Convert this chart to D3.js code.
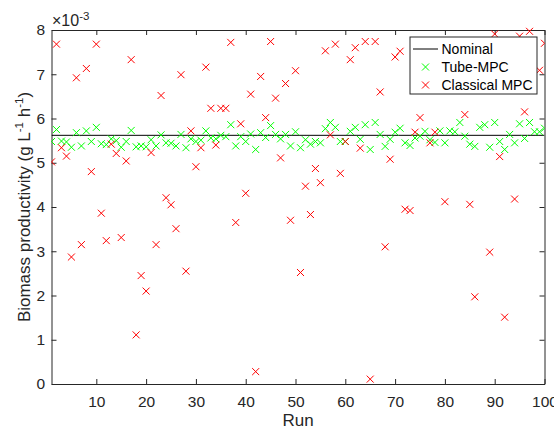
<!DOCTYPE html>
<html>
<head>
<meta charset="utf-8">
<script src="https://cdn.jsdelivr.net/npm/d3@7"></script>
<style>
  body { margin: 0; background: #fff; }
  svg { display: block; font-family: "Liberation Sans", Arial, sans-serif; }
</style>
</head>
<body>
<div id="chart"></div>
<script>
// Données (valeurs en 1e-3 g/L/h), une valeur par run 1..100
const runs = d3.range(1, 101);
const nominal = 5.62;

const tubeMPC = [
  5.48, 5.75, 5.49, 5.47, 5.35, 5.68, 5.38, 5.72, 5.48, 5.80,
  5.43, 5.41, 5.54, 5.50, 5.35, 5.48, 5.73, 5.36, 5.38, 5.36,
  5.52, 5.38, 5.63, 5.45, 5.44, 5.38, 5.64, 5.34, 5.54, 5.48,
  5.51, 5.72, 5.56, 5.54, 5.62, 5.59, 5.86, 5.38, 5.59, 5.48,
  5.65, 5.30, 5.68, 5.57, 5.84, 5.64, 5.54, 5.64, 5.38, 5.70,
  5.34, 5.52, 5.42, 5.48, 5.45, 5.77, 5.91, 5.80, 5.48, 5.48,
  5.71, 5.80, 5.53, 5.86, 5.30, 5.91, 5.64, 5.37, 5.53, 5.69,
  5.78, 5.45, 5.39, 5.56, 5.60, 5.71, 5.52, 5.46, 5.72, 5.45,
  5.72, 5.70, 5.91, 5.60, 5.42, 5.37, 5.80, 5.86, 5.35, 5.91,
  5.48, 5.30, 5.64, 5.45, 5.88, 5.55, 5.91, 5.70, 5.70, 5.78
];

// null = hors du cadre (au-dessus de 8e-3)
const classicalMPC = [
  5.02, 7.68, 5.34, 5.15, 2.87, 6.92, 3.15, 7.13, 4.80, 7.68,
  3.86, 3.24, 5.42, 5.21, 3.31, 5.04, 7.33, 1.11, 2.45, 2.10,
  5.23, 3.15, 6.52, 4.21, 4.05, 3.51, 6.99, 2.55, 5.72, 4.91,
  5.34, 7.16, 6.23, 5.40, 6.23, 6.23, 7.72, 3.65, 5.88, 4.31,
  6.55, 0.28, 6.95, 6.02, 7.74, 6.46, 5.11, 6.79, 3.70, 7.08,
  2.52, 4.47, 3.83, 4.87, 4.55, 7.53, 5.63, 7.68, 4.76, 5.48,
  7.33, 7.60, 5.33, 7.74, 0.11, 7.74, 6.60, 3.10, 5.08, 7.39,
  7.52, 3.95, 3.92, 5.69, 6.02, null, 5.45, 5.69, null, 4.12,
  null, null, null, 6.09, 4.06, 1.97, null, null, 2.98, 7.91,
  5.14, 1.51, null, 4.18, 7.86, 6.15, 7.97, null, 7.09, 7.70
];

const xTicks = [10, 20, 30, 40, 50, 60, 70, 80, 90, 100];
const yTicks = [0, 1, 2, 3, 4, 5, 6, 7, 8];

const W = 554, H = 429;
const plot = { left: 51.5, right: 544.5, top: 30, bottom: 384 };
const axisColor = '#262626';

const svg = d3.select('#chart').append('svg')
  .attr('width', W)
  .attr('height', H);

const x = d3.scaleLinear().domain([1, 100]).range([plot.left, plot.right]);
const y = d3.scaleLinear().domain([0, 8]).range([plot.bottom, plot.top]);

svg.append('defs').append('clipPath').attr('id', 'clip')
  .append('rect')
  .attr('x', plot.left).attr('y', plot.top - 4)
  .attr('width', plot.right - plot.left).attr('height', plot.bottom - plot.top + 4);

// Axes (ticks vers l'intérieur, boîte complète)
const tickLen = 5;
const xBottom = svg.append('g')
  .attr('transform', `translate(0,${plot.bottom})`)
  .call(d3.axisBottom(x).tickValues(xTicks).tickSizeInner(-tickLen).tickSizeOuter(0).tickPadding(11.5));
const xTop = svg.append('g')
  .attr('transform', `translate(0,${plot.top})`)
  .call(d3.axisTop(x).tickValues(xTicks).tickSizeInner(-tickLen).tickSizeOuter(0).tickFormat(''));
const yLeft = svg.append('g')
  .attr('transform', `translate(${plot.left},0)`)
  .call(d3.axisLeft(y).tickValues(yTicks).tickSizeInner(-tickLen).tickSizeOuter(0).tickPadding(6.5));
const yRight = svg.append('g')
  .attr('transform', `translate(${plot.right},0)`)
  .call(d3.axisRight(y).tickValues(yTicks).tickSizeInner(-tickLen).tickSizeOuter(0).tickFormat(''));

[xBottom, xTop, yLeft, yRight].forEach(g => {
  g.select('.domain').attr('stroke', axisColor);
  g.selectAll('.tick line').attr('stroke', axisColor);
  g.selectAll('.tick text')
    .attr('fill', axisColor)
    .style('font-size', '15.5px');
});

// Multiplicateur ×10^-3
const mult = svg.append('text')
  .attr('x', 52)
  .attr('y', 26)
  .attr('fill', axisColor)
  .style('font-size', '16px');
mult.append('tspan').text('×10');
mult.append('tspan').attr('dy', -6).style('font-size', '11.5px').text('-3');

// Labels des axes
svg.append('text')
  .attr('x', (plot.left + plot.right) / 2)
  .attr('y', 426)
  .attr('text-anchor', 'middle')
  .attr('fill', axisColor)
  .style('font-size', '17px')
  .text('Run');

const yl = svg.append('text')
  .attr('transform', `translate(30,${(plot.top + plot.bottom) / 2}) rotate(-90)`)
  .attr('text-anchor', 'middle')
  .attr('fill', axisColor)
  .style('font-size', '17px');
yl.append('tspan').text('Biomass productivity (g L');
yl.append('tspan').attr('dy', -7).style('font-size', '11.5px').text('-1');
yl.append('tspan').attr('dy', 7).text(' h');
yl.append('tspan').attr('dy', -7).style('font-size', '11.5px').text('-1');
yl.append('tspan').attr('dy', 7).text(')');

// Marques
const marks = svg.append('g').attr('clip-path', 'url(#clip)');
const cross = 'M-3.5,-3.5L3.5,3.5M-3.5,3.5L3.5,-3.5';

marks.append('line')
  .attr('x1', plot.left).attr('x2', plot.right)
  .attr('y1', y(nominal)).attr('y2', y(nominal))
  .attr('stroke', '#000')
  .attr('stroke-width', 1);

marks.append('g').selectAll('path')
  .data(runs.map((r, i) => ({ r, v: tubeMPC[i] })))
  .enter().append('path')
  .attr('d', cross)
  .attr('transform', d => `translate(${x(d.r)},${y(d.v)})`)
  .attr('stroke', '#00ff00')
  .attr('stroke-width', 1)
  .attr('fill', 'none');

marks.append('g').selectAll('path')
  .data(runs.map((r, i) => ({ r, v: classicalMPC[i] })).filter(d => d.v !== null))
  .enter().append('path')
  .attr('d', cross)
  .attr('transform', d => `translate(${x(d.r)},${y(d.v)})`)
  .attr('stroke', '#ff0000')
  .attr('stroke-width', 1)
  .attr('fill', 'none');

// Légende
const leg = svg.append('g').attr('transform', 'translate(410,37)');
leg.append('rect')
  .attr('width', 127).attr('height', 57)
  .attr('fill', '#fff')
  .attr('stroke', axisColor)
  .attr('stroke-width', 1);

const items = [
  { label: 'Nominal', type: 'line', color: '#000' },
  { label: 'Tube-MPC', type: 'cross', color: '#00ff00' },
  { label: 'Classical MPC', type: 'cross', color: '#ff0000' }
];
items.forEach((it, i) => {
  const cy = 12 + i * 18;
  if (it.type === 'line') {
    leg.append('line')
      .attr('x1', 3).attr('x2', 28)
      .attr('y1', cy).attr('y2', cy)
      .attr('stroke', it.color);
  } else {
    leg.append('path')
      .attr('d', cross)
      .attr('transform', `translate(15.5,${cy})`)
      .attr('stroke', it.color)
      .attr('fill', 'none');
  }
  leg.append('text')
    .attr('x', 31.5)
    .attr('y', cy + 5)
    .attr('fill', '#000')
    .style('font-size', '14px')
    .text(it.label);
});
</script>
</body>
</html>
